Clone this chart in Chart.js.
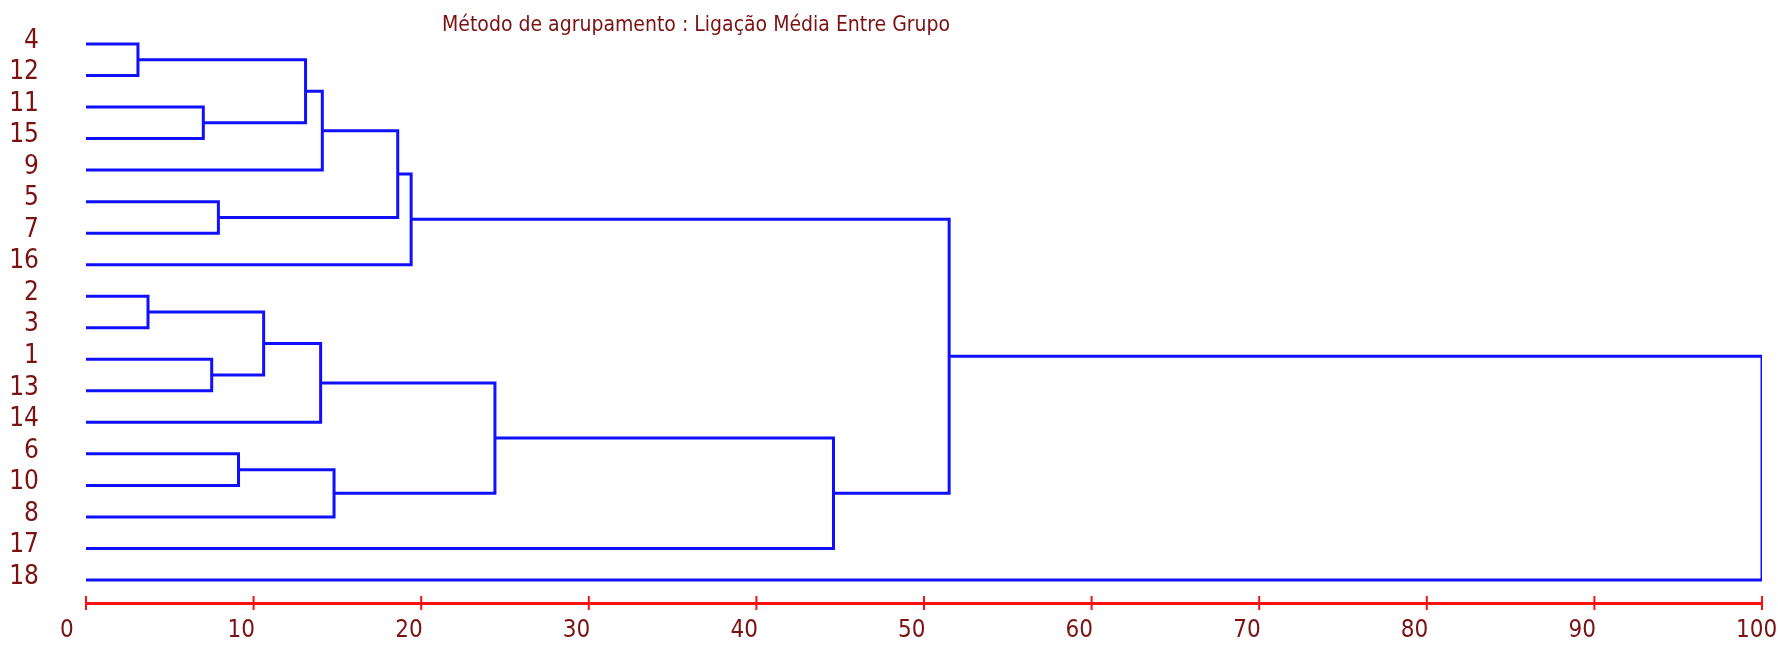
<!doctype html>
<html lang="pt">
<head>
<meta charset="utf-8">
<title>Dendrograma - Ligação Média Entre Grupo</title>
<script src="https://cdn.jsdelivr.net/npm/chart.js"></script>
<style>
  body{margin:0;background:#fff}
  #wrap{position:relative;width:1778px;height:645px}
  #title{position:absolute;left:442px;top:12px;font:21px 'Liberation Sans Narrow','DejaVu Sans Condensed',sans-serif;color:#7b1212;white-space:nowrap}
</style>
</head>
<body>
<div id="wrap">
  <canvas id="chart" width="1778" height="645"></canvas>
  <div id="title">Método de agrupamento : Ligação Média Entre Grupo</div>
</div>

<script>
/* ---------- data ------------------------------------------------------ */
// leaf order, top to bottom
const leaves = ['4','12','11','15','9','5','7','16','2','3','1','13','14','6','10','8','17','18'];
// merges in order; the i-th merge creates cluster 'C'+(i+1)
const mergeLeft  = ['4','2','11','1','5','6','C2','C1','C7','C8','C6','C10','C12','C9','C14','C13','C16'];
const mergeRight = ['12','3','15','13','7','10','C4','C3','14','9','8','C5','16','C11','17','C15','18'];
const mergeDist  = [3.1,3.7,7.0,7.5,7.9,9.1,10.6,13.1,14.0,14.1,14.8,18.6,19.4,24.4,44.6,51.5,100];
const xTicks = [0,10,20,30,40,50,60,70,80,90,100];

/* ---------- style ----------------------------------------------------- */
const FONT = "'Liberation Sans Narrow','DejaVu Sans Condensed',sans-serif";
const TEXT = '#7b1212', BLUE = '#1010ff', RED = '#ff1010';

/* ---------- build the links ------------------------------------------ */
const node = {};
leaves.forEach((l,i)=>node[l]={y:i,h:0});
const links = mergeDist.map((d,i)=>{
  const a=node[mergeLeft[i]], b=node[mergeRight[i]];
  node['C'+(i+1)]={y:(a.y+b.y)/2,h:d};
  return {label:'C'+(i+1),
          data:[{x:a.h,y:a.y},{x:d,y:a.y},{x:d,y:b.y},{x:b.h,y:b.y}],
          showLine:true, borderColor:BLUE, borderWidth:3, pointRadius:0, tension:0, fill:false};
});

/* ---------- tick marks crossing the x axis --------------------------- */
const axisTicks={id:'axisTicks',afterDraw(chart){
  const s=chart.scales.x, c=chart.ctx, y=s.top;
  c.save(); c.strokeStyle=RED; c.lineWidth=2;
  xTicks.forEach(v=>{const x=s.getPixelForValue(v);
    c.beginPath(); c.moveTo(x,y-7); c.lineTo(x,y+7); c.stroke();});
  c.restore();
}};

new Chart(document.getElementById('chart'),{
  type:'scatter',
  data:{datasets:links},
  options:{
    responsive:false, animation:false,
    layout:{padding:{top:0,right:16,left:0,bottom:0}},
    plugins:{legend:{display:false},tooltip:{enabled:false}},
    scales:{
      x:{type:'linear',min:0,max:100,
         afterBuildTicks:s=>{s.ticks=xTicks.map(v=>({value:v}));},
         afterFit:s=>{s.height=42; s.paddingLeft=0; s.paddingRight=0;},
         grid:{display:false,drawTicks:false},
         border:{display:true,color:RED,width:3},
         ticks:{align:'start',labelOffset:-26,padding:13,color:TEXT,
                font:{family:FONT,size:24},maxRotation:0,minRotation:0,autoSkip:false}},
      y:{type:'linear',reverse:true,min:-1.395,max:17.73,
         afterBuildTicks:s=>{s.ticks=leaves.map((_,i)=>({value:i}));},
         afterFit:s=>{s.width=86; s.paddingTop=0; s.paddingBottom=0;},
         grid:{display:false,drawTicks:false},
         border:{display:false},
         ticks:{callback:v=>leaves[v],padding:47,labelOffset:-3,color:TEXT,
                font:{family:FONT,size:26},autoSkip:false}}
    }
  },
  plugins:[axisTicks]
});
</script>
</body>
</html>
